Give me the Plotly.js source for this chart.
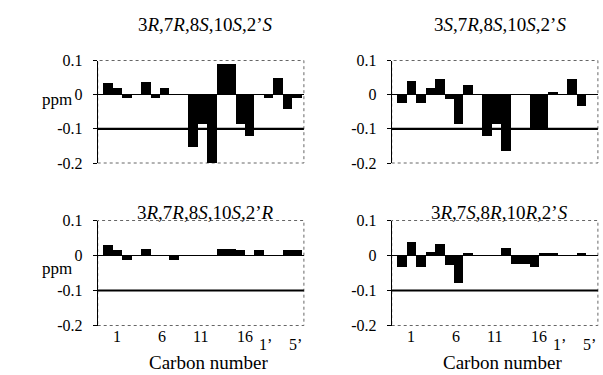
<!DOCTYPE html>
<html>
<head>
<meta charset="utf-8">
<script src="https://cdn.plot.ly/plotly-3.0.1.min.js"></script>
<style>
  html, body { margin: 0; padding: 0; background: #fff; }
  #chart { width: 603px; height: 375px; }
</style>
</head>
<body>
<div id="chart"></div>
<script>
// ---------------- data ----------------
const carbons = ['C1','C2','C3','C4','C5','C6','C7','C8','C9','C10','C11','C12','C13','C14','C15','C16',
                 "C1'","C2'","C3'","C4'","C5'"];

const titleTL = '3<i>R</i>,7<i>R</i>,8<i>S</i>,10<i>S</i>,2\u2019<i>S</i>';
const titleTR = '3<i>S</i>,7<i>R</i>,8<i>S</i>,10<i>S</i>,2\u2019<i>S</i>';
const titleBL = '3<i>R</i>,7<i>R</i>,8<i>S</i>,10<i>S</i>,2\u2019<i>R</i>';
const titleBR = '3<i>R</i>,7<i>S</i>,8<i>R</i>,10<i>R</i>,2\u2019<i>S</i>';

// delta ppm per carbon (null = no bar)
const valuesTL = [0.035, 0.019, -0.011, null, 0.037, -0.010, 0.019, null, null, -0.153, -0.086, -0.199,
                  0.090, 0.090, -0.085, -0.120, null, -0.010, 0.050, -0.043, -0.010];
const valuesTR = [-0.024, 0.039, -0.024, 0.020, 0.046, -0.014, -0.087, 0.027, null, -0.122, -0.087, -0.165,
                  null, null, -0.100, -0.100, 0.008, null, 0.046, -0.034, null];
const valuesBL = [0.031, 0.016, -0.014, null, 0.020, null, null, -0.013, null, null, null, null,
                  0.020, 0.020, 0.016, null, 0.016, null, null, 0.016, 0.016];
const valuesBR = [-0.034, 0.038, -0.034, 0.009, 0.032, -0.027, -0.079, 0.007, null, null, null, 0.021,
                  -0.025, -0.025, -0.033, 0.007, 0.007, null, null, 0.007, null];

const yTickVals = [0.1, 0, -0.1, -0.2];
const yTickText = ['0.1', '0', '-0.1', '-0.2'];
const xTickText = ['1', '6', '11', '16', '1\u2019', '5\u2019'];
const xTitleText = 'Carbon number';
const yTitleText = 'ppm';
const refLevel = -0.1;

// ---------------- layout helpers ----------------
const W = 603, H = 375;
const FONT = 'Liberation Serif';
const px = v => v / W;
const py = v => 1 - v / H;

const cols = [[97.7, 303.9], [391.7, 597.9]];
const rows = [[60.5, 163], [220.5, 325.5]];
const xRange = [-1.1, 20.74];
// x label positions along the category scale (as printed in the figure)
const xLabelPos = [0.97, 5.73, 9.81, 14.47, 16.7, 19.87];

const panels = [
  { vals: valuesTL, title: titleTL, c: 0, r: 0 },
  { vals: valuesTR, title: titleTR, c: 1, r: 0 },
  { vals: valuesBL, title: titleBL, c: 0, r: 1 },
  { vals: valuesBR, title: titleBR, c: 1, r: 1 }
];

const data = [];
const layout = {
  width: W, height: H,
  margin: { l: 0, r: 0, t: 0, b: 0 },
  paper_bgcolor: '#fff', plot_bgcolor: '#fff',
  showlegend: false,
  bargap: 0,
  font: { family: FONT, color: '#000' },
  annotations: [],
  shapes: []
};

panels.forEach((p, i) => {
  const n = i + 1;
  const xs = n === 1 ? '' : String(n);
  const xa = 'x' + xs, ya = 'y' + xs;
  const [x0, x1] = cols[p.c];
  const [y0, y1] = rows[p.r];

  data.push({
    type: 'bar', x: carbons, y: p.vals, xaxis: xa, yaxis: ya,
    marker: { color: '#000', line: { width: 0 } },
    hoverinfo: 'skip'
  });

  layout['xaxis' + xs] = {
    domain: [px(x0), px(x1)], anchor: ya, type: 'category',
    categoryorder: 'array', categoryarray: carbons,
    range: xRange, showticklabels: false, ticks: '',
    showline: false, showgrid: false, zeroline: false, fixedrange: true
  };
  layout['yaxis' + xs] = {
    domain: [py(y1), py(y0)], anchor: xa, range: [-0.2, 0.1],
    tickmode: 'array', tickvals: yTickVals, ticktext: yTickText,
    ticks: 'outside', ticklen: 4, tickcolor: '#000', tickwidth: 1,
    ticklabelstandoff: 7,
    showline: true, linecolor: '#000', linewidth: 1,
    zeroline: true, zerolinecolor: '#000', zerolinewidth: 1,
    showgrid: false, fixedrange: true,
    tickfont: { family: FONT, size: 16, color: '#000' }
  };

  // dotted plot-area frame
  layout.shapes.push({
    type: 'rect', xref: xa + ' domain', yref: ya + ' domain',
    x0: 0, x1: 1, y0: 0, y1: 1,
    line: { color: '#666', width: 1, dash: 'dot' }, layer: 'below'
  });
  // reference line at -0.1
  layout.shapes.push({
    type: 'line', xref: xa + ' domain', yref: ya,
    x0: 0, x1: 1, y0: refLevel, y1: refLevel,
    line: { color: '#000', width: 2.2 }
  });

  // panel title
  layout.annotations.push({
    text: p.title, showarrow: false, xref: 'paper', yref: 'paper',
    x: px((x0 + x1) / 2 + 5), y: py(p.r === 0 ? 24 : 212),
    xanchor: 'center', yanchor: 'middle',
    font: { family: FONT, size: 19, color: '#000' }
  });

  if (p.c === 0) {
    layout.annotations.push({
      text: yTitleText, showarrow: false, xref: 'paper', yref: 'paper',
      x: px(57), y: py(p.r === 0 ? 100 : 268), xanchor: 'center', yanchor: 'middle',
      font: { family: FONT, size: 17, color: '#000' }
    });
  }

  if (p.r === 1) {
    xTickText.forEach((t, k) => {
      const primed = t.indexOf('\u2019') >= 0;
      layout.annotations.push({
        text: t, showarrow: false, xref: xa, yref: 'paper',
        x: xLabelPos[k], y: py(primed ? 344 : 336),
        xanchor: 'center', yanchor: 'middle',
        font: { family: FONT, size: 16, color: '#000' }
      });
    });
    layout.annotations.push({
      text: xTitleText, showarrow: false, xref: 'paper', yref: 'paper',
      x: px(x0 + 111), y: py(362), xanchor: 'center', yanchor: 'middle',
      font: { family: FONT, size: 19, color: '#000' }
    });
  }
});

Plotly.newPlot('chart', data, layout, { displayModeBar: false, staticPlot: true });
</script>
</body>
</html>
